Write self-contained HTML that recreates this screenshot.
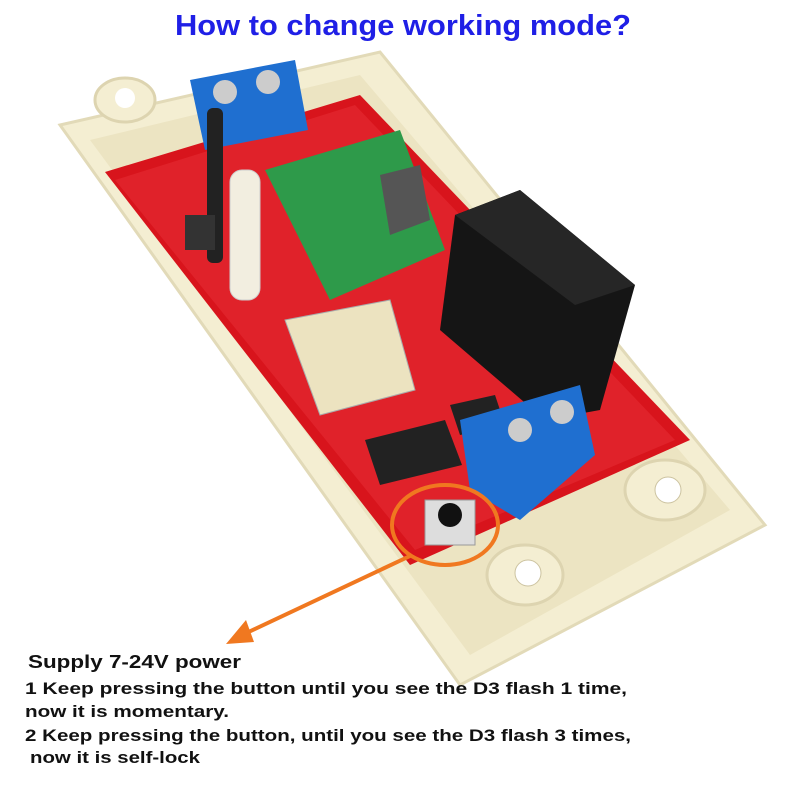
<!DOCTYPE html>
<html><head><style>body{margin:0;background:#fff}svg{display:block}</style></head>
<body>
<svg width="800" height="800" viewBox="0 0 800 800" xmlns="http://www.w3.org/2000/svg" font-family="Liberation Sans, sans-serif">
<rect width="800" height="800" fill="#fff"/>
<text x="403" y="35" text-anchor="middle" font-size="29" font-weight="bold" fill="#1f1fe6" textLength="456" lengthAdjust="spacingAndGlyphs">How to change working mode?</text>
<!-- enclosure -->
<polygon points="60,125 380,52 765,525 460,685" fill="#f4eed2" stroke="#e2dab8" stroke-width="3"/>
<polygon points="90,140 360,75 730,510 470,655" fill="#ece4c2"/>
<ellipse cx="125" cy="100" rx="30" ry="22" fill="#f4eed2" stroke="#ddd4b0" stroke-width="3"/>
<circle cx="125" cy="98" r="10" fill="#fff"/>
<ellipse cx="665" cy="490" rx="40" ry="30" fill="#f4eed2" stroke="#ddd4b0" stroke-width="3"/>
<circle cx="668" cy="490" r="13" fill="#fff" stroke="#ccc3a0"/>
<ellipse cx="525" cy="575" rx="38" ry="30" fill="#f4eed2" stroke="#ddd4b0" stroke-width="3"/>
<circle cx="528" cy="573" r="13" fill="#fff" stroke="#ccc3a0"/>
<!-- red board -->
<polygon points="105,172 360,95 690,440 410,565" fill="#d8141c"/>
<polygon points="115,180 355,105 675,440 415,550" fill="#e0222a"/>
<!-- green module -->
<polygon points="265,170 400,130 445,250 330,300" fill="#2e9a4a"/>
<polygon points="380,175 420,165 430,220 390,235" fill="#555"/>
<!-- top blue terminal -->
<polygon points="190,80 295,60 308,130 205,150" fill="#1f6fd0"/>
<circle cx="225" cy="92" r="12" fill="#ccc"/><circle cx="268" cy="82" r="12" fill="#ccc"/>
<!-- antenna -->
<rect x="207" y="108" width="16" height="155" rx="6" fill="#222"/>
<rect x="185" y="215" width="30" height="35" fill="#333"/>
<!-- LED -->
<rect x="230" y="170" width="30" height="130" rx="12" fill="#f2eee0" stroke="#ccc"/>
<!-- relay -->
<polygon points="455,215 520,190 635,285 600,410 545,420 440,330" fill="#151515"/>
<polygon points="455,215 520,190 635,285 575,305" fill="#262626"/>
<!-- bluetooth module -->
<polygon points="285,320 390,300 415,390 320,415" fill="#ece3c0" stroke="#aaa"/>
<!-- chip -->
<polygon points="365,440 445,420 462,465 380,485" fill="#222"/>
<polygon points="450,405 495,395 505,425 460,435" fill="#222"/>
<!-- bottom blue terminal -->
<polygon points="460,420 580,385 595,455 520,520 470,490" fill="#1f6fd0"/>
<circle cx="520" cy="430" r="12" fill="#ccc"/><circle cx="562" cy="412" r="12" fill="#ccc"/>
<!-- button -->
<rect x="425" y="500" width="50" height="45" fill="#ddd" stroke="#999"/>
<circle cx="450" cy="515" r="12" fill="#111"/>
<ellipse cx="445" cy="525" rx="53" ry="40" fill="none" stroke="#f07820" stroke-width="4"/>
<!-- arrow -->
<line x1="410" y1="556" x2="240" y2="636" stroke="#f07820" stroke-width="4"/>
<polygon points="226,644 246,620 254,642" fill="#f07820"/>
<g font-weight="bold" fill="#111" font-size="17">
<text x="28" y="668" font-size="18" textLength="213" lengthAdjust="spacingAndGlyphs">Supply 7-24V power</text>
<text x="25" y="694" textLength="602" lengthAdjust="spacingAndGlyphs">1 Keep pressing the button until you see the D3 flash 1 time,</text>
<text x="25" y="717" textLength="204" lengthAdjust="spacingAndGlyphs">now it is momentary.</text>
<text x="25" y="741" textLength="606" lengthAdjust="spacingAndGlyphs">2 Keep pressing the button, until you see the D3 flash 3 times,</text>
<text x="30" y="763" textLength="170" lengthAdjust="spacingAndGlyphs">now it is self-lock</text>
</g>
</svg>
</body></html>
